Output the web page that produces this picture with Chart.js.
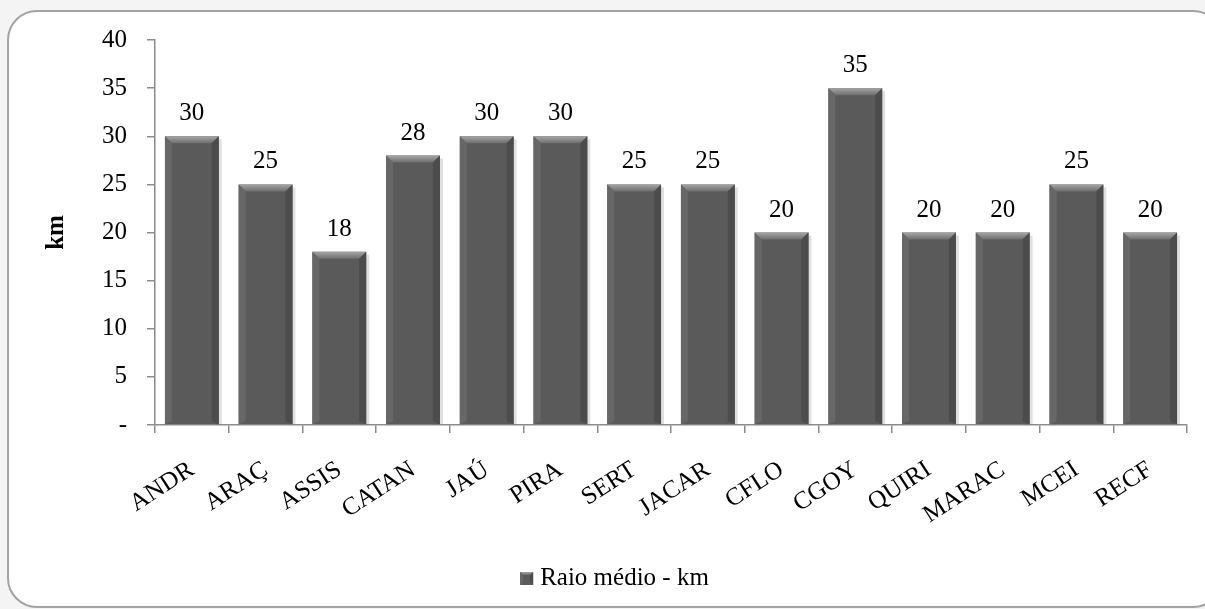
<!DOCTYPE html>
<html>
<head>
<meta charset="utf-8">
<script src="https://cdn.jsdelivr.net/npm/chart.js@4/dist/chart.umd.min.js"></script>
<style>
  body { margin: 0; background: #f4f4f4; }
  #frame {
    position: absolute; left: 7px; top: 10px; width: 1212px; height: 594px;
    border: 2px solid #a3a3a3; border-radius: 30px; background: #fff;
  }
  #wrap { position: absolute; left: 0; top: 0; width: 1205px; height: 609px; }
</style>
</head>
<body>
<div id="frame"></div>
<div id="wrap"><canvas id="raio-chart"></canvas></div>
<script>
var categories = ['ANDR', 'ARAÇ', 'ASSIS', 'CATAN', 'JAÚ', 'PIRA', 'SERT', 'JACAR', 'CFLO', 'CGOY', 'QUIRI', 'MARAC', 'MCEI', 'RECF'];
var raioMedio = [30, 25, 18, 28, 30, 30, 25, 25, 20, 35, 20, 20, 25, 20];
var yTicks = [0, 5, 10, 15, 20, 25, 30, 35, 40];
var seriesName = 'Raio médio - km';

var serif = "'Liberation Serif', 'Times New Roman', serif";
Chart.defaults.font.family = serif;
Chart.defaults.color = '#000';

function bevel(ctx, l, t, r, b, e) {
  var g = ctx.createLinearGradient(0, t, 0, t + e);
  g.addColorStop(0, '#a6a6a6');
  g.addColorStop(1, '#6e6e6e');
  ctx.fillStyle = g;
  ctx.beginPath(); ctx.moveTo(l, t); ctx.lineTo(r, t); ctx.lineTo(r - e, t + e); ctx.lineTo(l + e, t + e); ctx.closePath(); ctx.fill();
  ctx.fillStyle = '#676767';
  ctx.beginPath(); ctx.moveTo(l, t); ctx.lineTo(l + e, t + e); ctx.lineTo(l + e, b - 3); ctx.lineTo(l, b); ctx.closePath(); ctx.fill();
  ctx.fillStyle = '#4c4c4c';
  ctx.beginPath(); ctx.moveTo(r, t); ctx.lineTo(r - e, t + e); ctx.lineTo(r - e, b - 3); ctx.lineTo(r, b); ctx.closePath(); ctx.fill();
}

// bevel look for the bars, drawn over each bar element
var bevelPlugin = {
  id: 'bevel',
  afterDatasetsDraw: function (chart) {
    var ctx = chart.ctx;
    chart.getDatasetMeta(0).data.forEach(function (bar) {
      var l = bar.x - bar.width / 2, r = bar.x + bar.width / 2;
      ctx.save();
      bevel(ctx, l, bar.y, r, bar.base, 7);
      ctx.fillStyle = 'rgba(0,0,0,0.12)';
      ctx.fillRect(r, bar.y + 3, 3, bar.base - bar.y - 3);
      ctx.restore();
    });
  }
};

var valueLabels = {
  id: 'valueLabels',
  afterDatasetsDraw: function (chart) {
    var ctx = chart.ctx;
    ctx.save();
    ctx.font = '25px ' + serif;
    ctx.fillStyle = '#000';
    ctx.textAlign = 'center';
    ctx.textBaseline = 'alphabetic';
    chart.getDatasetMeta(0).data.forEach(function (bar, i) {
      ctx.fillText(raioMedio[i], bar.x, bar.y - 16);
    });
    ctx.restore();
  }
};

// legend drawn by hand: the box sits right next to the text
var bottomLegend = {
  id: 'bottomLegend',
  afterDraw: function (chart) {
    var ctx = chart.ctx;
    ctx.save();
    ctx.font = '25px ' + serif;
    var tw = ctx.measureText(seriesName).width;
    var total = 13 + 7 + tw;
    var x0 = chart.width / 2 + 12 - total / 2;
    var yc = chart.height - 31;
    ctx.fillStyle = '#5a5a5a';
    ctx.fillRect(x0, yc - 6, 13, 13);
    bevel(ctx, x0, yc - 6, x0 + 13, yc + 7, 3);
    ctx.fillStyle = '#000';
    ctx.textBaseline = 'middle';
    ctx.fillText(seriesName, x0 + 20, yc);
    ctx.restore();
  }
};

var ctx = document.getElementById('raio-chart').getContext('2d');
new Chart(ctx, {
  type: 'bar',
  data: {
    labels: categories,
    datasets: [{
      label: seriesName,
      data: raioMedio,
      backgroundColor: '#5a5a5a',
      borderWidth: 0,
      barPercentage: 0.73,
      categoryPercentage: 1
    }]
  },
  options: {
    responsive: true,
    maintainAspectRatio: false,
    animation: false,
    layout: { padding: { left: 42, right: 18, top: 40, bottom: 51 } },
    plugins: {
      legend: { display: false },
      tooltip: { enabled: false }
    },
    scales: {
      x: {
        afterFit: function (s) { s.height = 133; },
        border: { color: '#8c8c8c', width: 1.5 },
        grid: { drawOnChartArea: false, tickLength: 8, color: '#8c8c8c', lineWidth: 1.5 },
        ticks: { minRotation: 33, maxRotation: 33, padding: 22, font: { size: 25 } }
      },
      y: {
        min: 0, max: 40,
        afterFit: function (s) { s.width = 113; },
        afterBuildTicks: function (s) { s.ticks = yTicks.map(function (v) { return { value: v }; }); },
        border: { color: '#8c8c8c', width: 1.5 },
        grid: { drawOnChartArea: false, tickLength: 8, color: '#8c8c8c', lineWidth: 1.5 },
        ticks: {
          padding: 20, font: { size: 25 },
          callback: function (v) { return v === 0 ? '-' : v; }
        },
        title: { display: true, text: 'km', font: { size: 25, weight: 'bold' }, padding: 0 }
      }
    }
  },
  plugins: [bevelPlugin, valueLabels, bottomLegend]
});
</script>
</body>
</html>
